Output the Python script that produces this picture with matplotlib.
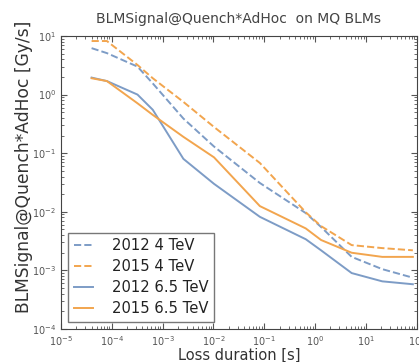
import matplotlib
matplotlib.use("Agg")
import matplotlib.pyplot as plt

# BLM running sums [s]
durations = [4e-5, 8e-5, 3.2e-4, 6.4e-4, 2.56e-3, 1.024e-2, 8.192e-2,
             0.655, 1.31, 5.24, 20.97, 83.89]

# BLMSignal@Quench*AdHoc [Gy/s]
sig_2012_4tev = [6.2, 5.1, 3.0, 1.55, 0.39, 0.13, 0.031,
                 0.0095, 0.0055, 0.0017, 0.00105, 0.00075]
sig_2015_4tev = [8.2, 8.2, 3.2, 1.9, 0.75, 0.28, 0.068,
                 0.0098, 0.0057, 0.0027, 0.0024, 0.0022]
sig_2012_65tev = [1.95, 1.7, 1.0, 0.55, 0.08, 0.03, 0.0082,
                  0.0034, 0.0022, 0.0009, 0.00065, 0.00058]
sig_2015_65tev = [1.9, 1.7, 0.71, 0.45, 0.19, 0.085, 0.0125,
                  0.0052, 0.0033, 0.002, 0.0017, 0.0017]

blue = '#7d9cc6'
orange = '#f2a54e'

fig = plt.figure(figsize=(4.19, 3.62), dpi=100)
ax = fig.add_axes([0.1456, 0.0912, 0.849, 0.8094])

ax.plot(durations, sig_2012_4tev, '--', color=blue, lw=1.4, label='2012 4 TeV')
ax.plot(durations, sig_2015_4tev, '--', color=orange, lw=1.4, label='2015 4 TeV')
ax.plot(durations, sig_2012_65tev, '-', color=blue, lw=1.4, label='2012 6.5 TeV')
ax.plot(durations, sig_2015_65tev, '-', color=orange, lw=1.4, label='2015 6.5 TeV')

ax.set_xscale('log')
ax.set_yscale('log')
ax.set_xlim(1e-5, 1e2)
ax.set_ylim(1e-4, 1e1)

ax.tick_params(which='both', direction='in', top=True, right=True,
               labelsize=7, labelcolor='#555555', color='#555555')
ax.tick_params(which='major', length=4)
ax.tick_params(which='minor', length=2)
for sp in ax.spines.values():
    sp.set_color('#444444')

ax.set_title('BLMSignal@Quench*AdHoc  on MQ BLMs', fontsize=10, color='#444444', pad=9)
ax.set_xlabel('Loss duration [s]', fontsize=10.5, color='#333333', labelpad=0)
ax.set_ylabel('BLMSignal@Quench*AdHoc [Gy/s]', fontsize=12.3, color='#333333')
ax.yaxis.set_label_coords(-0.08, 0.555)

leg = ax.legend(loc='lower left', fontsize=10.6, handlelength=1.3, labelspacing=0.42,
                fancybox=False, borderpad=0.35, handletextpad=1.3)
leg.get_frame().set_edgecolor('#555555')
leg.get_frame().set_linewidth(1.0)
for t in leg.get_texts():
    t.set_color('#222222')

fig.savefig('out.png', dpi=100)
